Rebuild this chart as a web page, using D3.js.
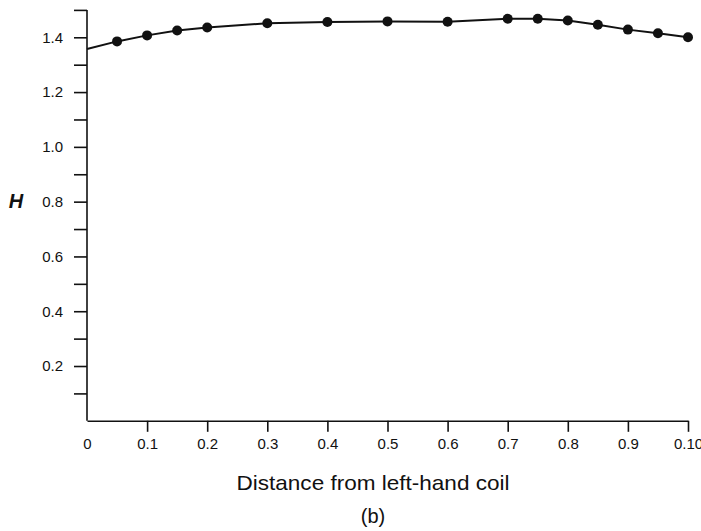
<!DOCTYPE html>
<html>
<head>
<meta charset="utf-8">
<script src="https://cdn.jsdelivr.net/npm/d3@7"></script>
<style>
  html, body { margin: 0; padding: 0; background: #fff; }
  svg { display: block; }
  text { font-family: "Liberation Sans Narrow", "Liberation Sans", "DejaVu Sans", sans-serif; fill: #111; }
</style>
</head>
<body>
<script>
// Field strength H along the axis between the coils
const distance = [0.05, 0.1, 0.15, 0.2, 0.3, 0.4, 0.5, 0.6, 0.7, 0.75, 0.8, 0.85, 0.9, 0.95, 1.0];
const hValues  = [1.385, 1.407, 1.425, 1.436, 1.451, 1.456, 1.458, 1.457, 1.468, 1.468, 1.461, 1.446, 1.428, 1.415, 1.400];
// curve begins at the left-hand coil without a marker
const startDistance = 0;
const startValue = 1.357;

const xTickValues = [0, 0.1, 0.2, 0.3, 0.4, 0.5, 0.6, 0.7, 0.8, 0.9, 1.0];
const xTickLabels = ["0", "0.1", "0.2", "0.3", "0.4", "0.5", "0.6", "0.7", "0.8", "0.9", "0.10"];
const yMajorTicks = [0.2, 0.4, 0.6, 0.8, 1.0, 1.2, 1.4];
const yMajorLabels = ["0.2", "0.4", "0.6", "0.8", "1.0", "1.2", "1.4"];
const yMinorTicks = [0.1, 0.3, 0.5, 0.7, 0.9, 1.1, 1.3, 1.5];

const W = 701, H = 531;
const svg = d3.select("body").append("svg").attr("width", W).attr("height", H);

const x = d3.scaleLinear().domain([0, 1.0]).range([87, 688]);
const y = d3.scaleLinear().domain([0, 1.5]).range([420.8, 9.9]);

const ink = "#111";

// x axis
const xAxis = svg.append("g")
  .attr("transform", `translate(0,${y(0)})`)
  .call(d3.axisBottom(x)
    .tickValues(xTickValues)
    .tickFormat((d, i) => xTickLabels[i])
    .tickSize(11)
    .tickSizeOuter(0)
    .tickPadding(7));
xAxis.select(".domain").attr("stroke", ink).attr("stroke-width", 1.6);
xAxis.selectAll(".tick line").attr("stroke", ink).attr("stroke-width", 1.6)
  .filter(d => d === 0).remove();
xAxis.selectAll(".tick text").attr("font-size", 15).attr("fill", ink)
  .style("font-family", "'Liberation Sans Narrow', 'Liberation Sans', sans-serif");

// y axis: major labelled ticks and unlabelled minor ticks
const yAxis = svg.append("g")
  .attr("transform", `translate(${x(0)},0)`)
  .call(d3.axisLeft(y)
    .tickValues(yMajorTicks)
    .tickFormat((d, i) => yMajorLabels[i])
    .tickSize(13)
    .tickSizeOuter(0)
    .tickPadding(11));
yAxis.select(".domain").attr("stroke", ink).attr("stroke-width", 1.6)
  .attr("d", `M0,${y(1.5)}V${y(0)}`);
yAxis.selectAll(".tick line").attr("stroke", ink).attr("stroke-width", 1.6);
yAxis.selectAll(".tick text").attr("font-size", 15).attr("fill", ink);

const yMinor = svg.append("g")
  .attr("transform", `translate(${x(0)},0)`)
  .call(d3.axisLeft(y).tickValues(yMinorTicks).tickFormat("").tickSize(13).tickSizeOuter(0));
yMinor.select(".domain").remove();
yMinor.selectAll(".tick line").attr("stroke", ink).attr("stroke-width", 1.6);

// axis titles
svg.append("text")
  .attr("x", 16).attr("y", 208)
  .attr("text-anchor", "middle")
  .attr("font-size", 20)
  .attr("font-weight", "bold")
  .attr("font-style", "italic")
  .style("font-family", "'Liberation Sans', sans-serif")
  .text("H");

svg.append("text")
  .attr("x", 373).attr("y", 490)
  .attr("text-anchor", "middle")
  .attr("font-size", 21)
  .attr("textLength", 273)
  .attr("lengthAdjust", "spacingAndGlyphs")
  .text("Distance from left-hand coil");

svg.append("text")
  .attr("x", 373).attr("y", 523)
  .attr("text-anchor", "middle")
  .attr("font-size", 20)
  .text("(b)");

// curve and markers
const linePts = [[startDistance, startValue]].concat(distance.map((d, i) => [d, hValues[i]]));
svg.append("path")
  .datum(linePts)
  .attr("fill", "none")
  .attr("stroke", ink)
  .attr("stroke-width", 2)
  .attr("d", d3.line().x(d => x(d[0])).y(d => y(d[1])));

svg.append("g").selectAll("circle")
  .data(distance)
  .join("circle")
  .attr("cx", d => x(d))
  .attr("cy", (d, i) => y(hValues[i]))
  .attr("r", 5)
  .attr("fill", ink);
</script>
</body>
</html>
